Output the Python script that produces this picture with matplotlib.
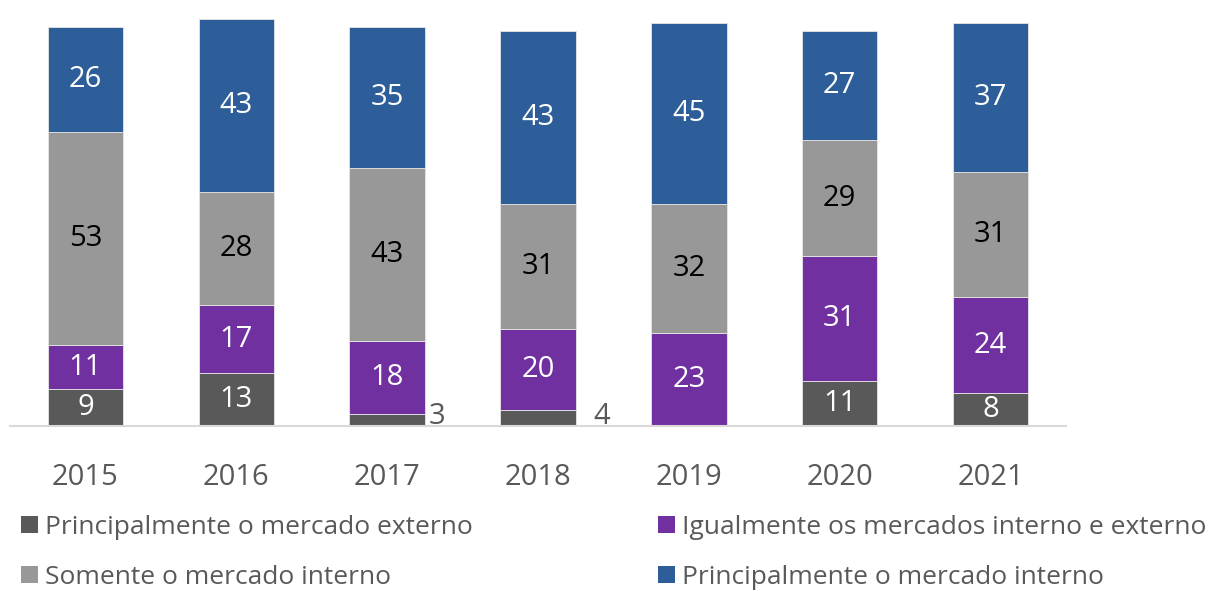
import matplotlib
matplotlib.use("Agg")
import matplotlib.pyplot as plt
import numpy as np

years = ["2015", "2016", "2017", "2018", "2019", "2020", "2021"]
series_names = [
    "Principalmente o mercado externo",
    "Igualmente os mercados interno e externo",
    "Somente o mercado interno",
    "Principalmente o mercado interno",
]
externo = [9, 13, 3, 4, 0, 11, 8]
igualmente = [11, 17, 18, 20, 23, 31, 24]
somente = [53, 28, 43, 31, 32, 29, 31]
interno = [26, 43, 35, 43, 45, 27, 37]

colors = ["#595959", "#7030A0", "#989898", "#2E5E99"]
label_colors = ["white", "white", "black", "white"]

plt.rcParams['font.family'] = ['Open Sans', 'DejaVu Sans']

YMAX = 101.5
PX_PER_UNIT = 4.03
base_y = 425.7
top_y = base_y - YMAX * PX_PER_UNIT

fig = plt.figure(figsize=(12.10, 5.91), dpi=100)
ax = fig.add_axes([10/1210, 1 - base_y/591, (1066 - 10)/1210, (base_y - top_y)/591])

x = np.arange(len(years))
data = [externo, igualmente, somente, interno]
bottom = np.zeros(len(years))
handles = []
for vals, col, lcol, name in zip(data, colors, label_colors, series_names):
    vals = np.array(vals, dtype=float)
    bars = ax.bar(x, vals, width=0.5, bottom=bottom, color=col,
                  edgecolor="#E6E6E6", linewidth=0.6, label=name, zorder=2)
    handles.append(bars)
    for xi, v, b in zip(x, vals, bottom):
        if v <= 0:
            continue
        if v < 6:
            # small values written beside the bar
            off = 0.33 if xi == 2 else 0.42
            ax.text(xi + off, b + 2.2, f"{int(v)}", ha="center", va="center",
                    fontsize=21, color="#595959")
        else:
            ax.text(xi, b + v / 2, f"{int(v)}", ha="center", va="center",
                    fontsize=21, color=lcol)
    bottom = bottom + vals

ax.set_xlim(-0.5, len(years) - 0.5)
ax.set_ylim(0, YMAX)
ax.set_xticks(x)
ax.set_xticklabels(years, fontsize=21, color="#595959")
ax.tick_params(axis="x", length=0, pad=27)
ax.set_yticks([])
for s in ["left", "right", "top"]:
    ax.spines[s].set_visible(False)
ax.spines["bottom"].set_color("#D9D9D9")
ax.spines["bottom"].set_linewidth(1.5)
ax.spines["bottom"].set_zorder(3)

order = [0, 2, 1, 3]
leg = fig.legend([handles[i] for i in order], [series_names[i] for i in order],
                 ncol=2, loc="upper left", bbox_to_anchor=(21/1210, 1 - 515/591),
                 frameon=False, fontsize=19, handlelength=0.65, handleheight=0.62,
                 handletextpad=0.27, columnspacing=7.0, labelspacing=0.93,
                 borderpad=0, borderaxespad=0, labelcolor="#595959")
for h in leg.legend_handles:
    h.set_edgecolor("none")

fig.savefig("out.png", dpi=100)
